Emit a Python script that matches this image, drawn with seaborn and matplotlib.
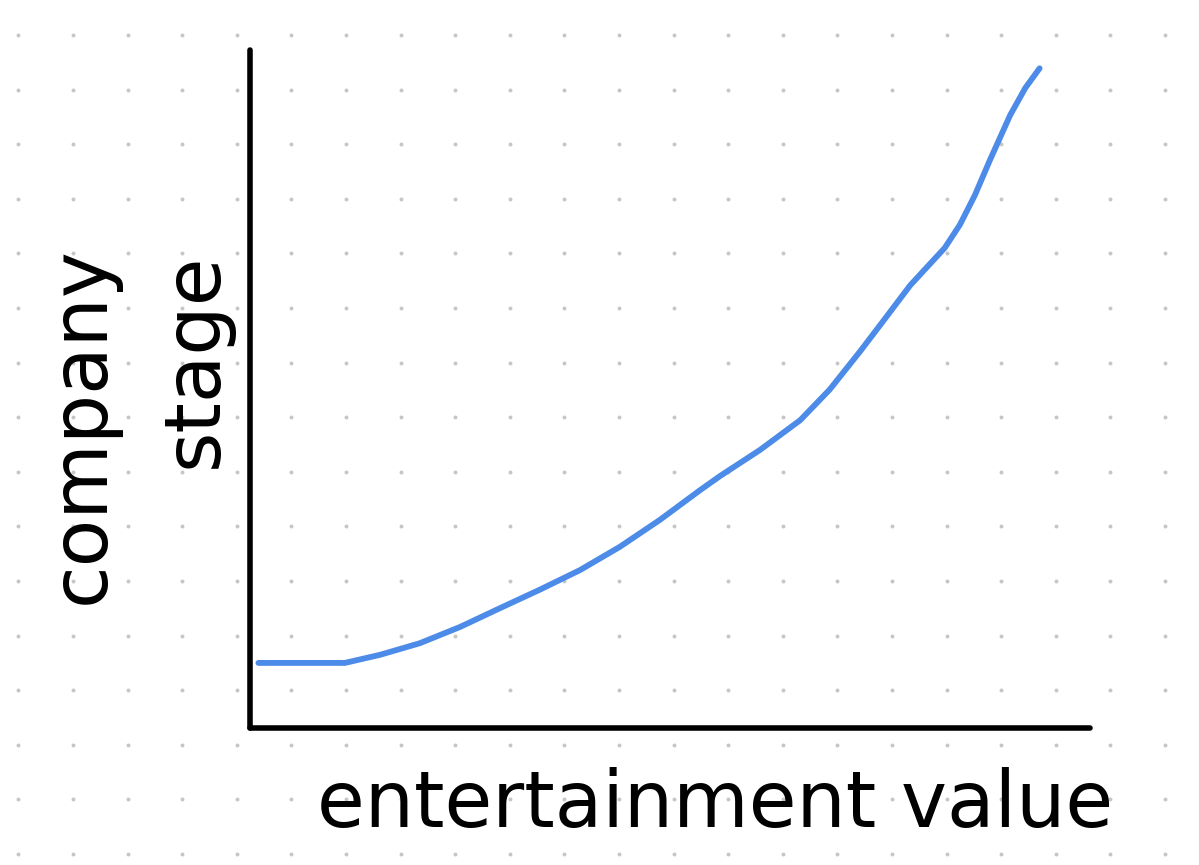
import numpy as np
import seaborn as sns
import matplotlib.pyplot as plt

entertainment = [1.0, 11.3, 15.5, 20.2, 25.0, 29.8, 34.5, 39.3, 44.0, 48.8,
                 53.6, 56.0, 60.7, 65.5, 69.0, 72.6, 75.0, 78.6, 82.7, 84.5,
                 86.3, 88.1, 90.5, 92.3, 94.0]
stage = [9.6, 9.6, 10.8, 12.5, 14.9, 17.7, 20.4, 23.3, 26.7, 30.7,
         35.1, 37.2, 41.0, 45.4, 49.9, 55.5, 59.4, 65.3, 70.8, 74.2,
         78.6, 83.8, 90.4, 94.4, 97.3]

x_label = 'entertainment value'
y_label_top = 'company'
y_label_bottom = 'stage'

sns.set_style('white')
plt.rcParams['font.family'] = ['DejaVu Sans']

fig = plt.figure(figsize=(11.99, 8.65), dpi=100)

# Fundo pontilhado (papel de caderno)
bg = fig.add_axes([0, 0, 1, 1], zorder=-1)
gx, gy = np.meshgrid(np.arange(18.4, 1199, 54.6), np.arange(35, 865, 54.6))
bg.scatter(gx.ravel(), gy.ravel(), s=8, color='#c6c6c6', linewidths=0)
bg.set_xlim(0, 1199)
bg.set_ylim(865, 0)
bg.axis('off')

# Eixos principais
ax = fig.add_axes([250 / 1199, 1 - 728 / 865, 840 / 1199, 678 / 865])
ax.patch.set_alpha(0)
sns.lineplot(x=entertainment, y=stage, ax=ax, color='#4C8BE8',
             linewidth=4.2, solid_capstyle='round')
ax.set_xlim(0, 100)
ax.set_ylim(0, 100)
ax.set_xticks([])
ax.set_yticks([])
ax.set_xlabel('')
ax.set_ylabel('')
for side in ['top', 'right']:
    ax.spines[side].set_visible(False)
for side in ['left', 'bottom']:
    ax.spines[side].set_color('black')
    ax.spines[side].set_linewidth(4)
    ax.spines[side].set_capstyle('round')

fig.text(715 / 1199, 1 - 805 / 865, x_label, fontsize=56, color='black',
         ha='center', va='center')
fig.text(82 / 1199, 1 - 425 / 865, y_label_top, fontsize=56, color='black',
         rotation=90, ha='center', va='center')
fig.text(195 / 1199, 1 - 360 / 865, y_label_bottom, fontsize=56, color='black',
         rotation=90, ha='center', va='center')

fig.savefig('out.png', dpi=100)
